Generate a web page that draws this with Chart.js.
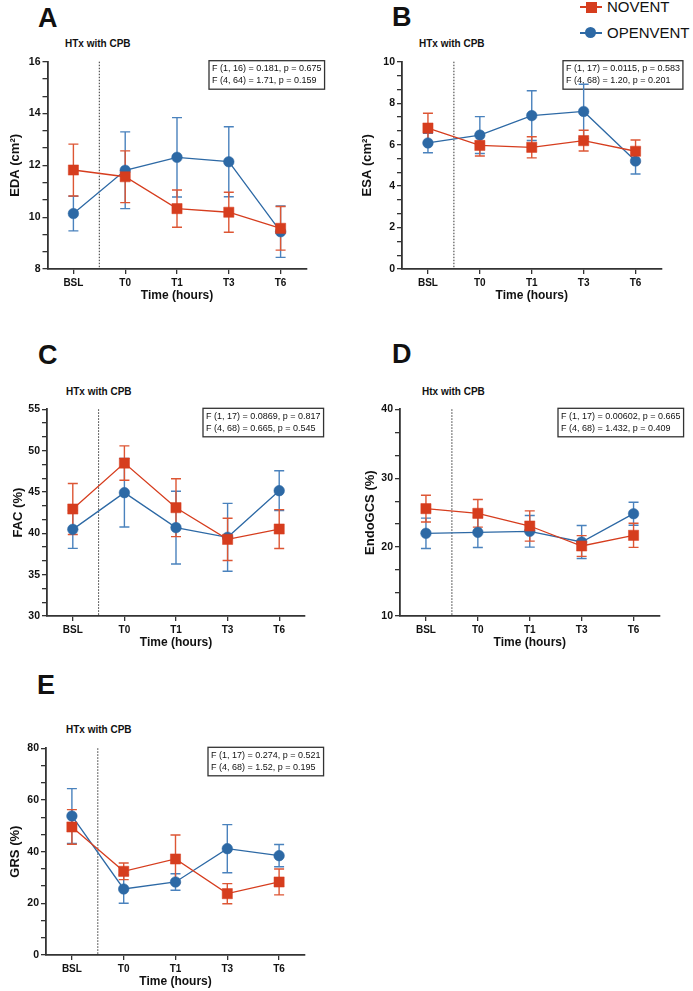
<!DOCTYPE html>
<html>
<head>
<meta charset="utf-8">
<script src="https://cdn.jsdelivr.net/npm/chart.js@4.4.1/dist/chart.umd.min.js"></script>
<style>
  body { margin: 0; background: #fff; width: 693px; height: 991px; position: relative; overflow: hidden;
         font-family: "Liberation Sans", Arial, sans-serif; color: #111; }
  canvas { position: absolute; }
  .letter { position: absolute; font-weight: bold; font-size: 27px; line-height: 1; }
  .sub { position: absolute; font-weight: bold; font-size: 10px; line-height: 1; white-space: nowrap; }
  .leg { position: absolute; font-size: 15px; line-height: 1; white-space: nowrap; }
  .legline { position: absolute; height: 1.6px; }
</style>
</head>
<body>
<div class="letter" style="left:38px;top:4.5px">A</div>
<div class="letter" style="left:392px;top:4px">B</div>
<div class="letter" style="left:38px;top:341.5px">C</div>
<div class="letter" style="left:392px;top:341px">D</div>
<div class="letter" style="left:37px;top:671.5px">E</div>

<div class="sub" style="left:65px;top:39.4px">HTx with CPB</div>
<div class="sub" style="left:419px;top:39.4px">HTx with CPB</div>
<div class="sub" style="left:66px;top:386.8px">HTx with CPB</div>
<div class="sub" style="left:422px;top:386.8px">Htx with CPB</div>
<div class="sub" style="left:66px;top:725px">HTx with CPB</div>

<!-- legend -->
<div class="legline" style="left:580px;top:6px;width:22px;background:#d63d1e"></div>
<div style="position:absolute;left:586px;top:1.5px;width:11px;height:11px;background:#d63d1e"></div>
<div class="leg" style="left:607px;top:-0.6px">NOVENT</div>
<div class="legline" style="left:580px;top:32px;width:22px;background:#2d69a5"></div>
<div style="position:absolute;left:585px;top:27.3px;width:11px;height:11px;border-radius:50%;background:#2d69a5"></div>
<div class="leg" style="left:607px;top:25.4px">OPENVENT</div>

<script>
const timeLabels = ["BSL", "T0", "T1", "T3", "T6"];

// A - EDA (cm²), mean and SEM
const edaNovent = [11.82, 11.56, 10.33, 10.19, 9.57];
const edaNoventSem = [1.0, 1.0, 0.72, 0.77, 0.84];
const edaOpenvent = [10.14, 11.81, 12.31, 12.14, 9.44];
const edaOpenventSem = [0.67, 1.48, 1.53, 1.35, 0.99];

// B - ESA (cm²)
const esaNovent = [6.8, 5.96, 5.87, 6.19, 5.68];
const esaNoventSem = [0.71, 0.51, 0.51, 0.5, 0.54];
const esaOpenvent = [6.08, 6.46, 7.4, 7.6, 5.21];
const esaOpenventSem = [0.47, 0.89, 1.2, 1.31, 0.63];

// C - FAC (%)
const facNovent = [42.94, 48.5, 43.1, 39.27, 40.52];
const facNoventSem = [3.08, 2.08, 3.5, 2.55, 2.35];
const facOpenvent = [40.48, 44.92, 40.69, 39.52, 45.16];
const facOpenventSem = [2.3, 4.15, 4.4, 4.1, 2.4];

// D - EndoGCS (%)
const endoNovent = [25.58, 24.9, 23.06, 20.16, 21.71];
const endoNoventSem = [1.94, 2.0, 2.2, 1.5, 1.75];
const endoOpenvent = [22.0, 22.14, 22.29, 20.74, 24.85];
const endoOpenventSem = [2.2, 2.2, 2.3, 2.4, 1.67];

// E - GRS (%)
const grsNovent = [49.55, 32.39, 37.16, 23.74, 28.26];
const grsNoventSem = [6.7, 3.2, 9.3, 3.9, 5.0];
const grsOpenvent = [53.8, 25.55, 28.26, 41.16, 38.45];
const grsOpenventSem = [10.6, 5.5, 3.2, 9.3, 4.3];

const statsA = ["F (1, 16) = 0.181, p = 0.675", "F (4, 64) = 1.71, p = 0.159"];
const statsB = ["F (1, 17) = 0.0115, p = 0.583", "F (4, 68) = 1.20, p = 0.201"];
const statsC = ["F (1, 17) = 0.0869, p = 0.817", "F (4, 68) = 0.665, p = 0.545"];
const statsD = ["F (1, 17) = 0.00602, p = 0.665", "F (4, 68) = 1.432, p = 0.409"];
const statsE = ["F (1, 17) = 0.274, p = 0.521", "F (4, 68) = 1.52, p = 0.195"];

const RED = "#d63d1e";
const BLUE = "#2d69a5";
const FONT = "'Liberation Sans', Arial, sans-serif";

// mean +/- SEM whiskers, drawn under the markers
const errorBars = {
  id: "errorBars",
  beforeDatasetsDraw(chart) {
    const ctx = chart.ctx;
    const y = chart.scales.y;
    for (let i = chart.data.datasets.length - 1; i >= 0; i--) {
      const ds = chart.data.datasets[i];
      const meta = chart.getDatasetMeta(i);
      ctx.save();
      ctx.strokeStyle = ds.whiskerColor;
      ctx.lineWidth = 1.4;
      meta.data.forEach((pt, j) => {
        const top = y.getPixelForValue(ds.data[j] + ds.sem[j]);
        const bot = y.getPixelForValue(ds.data[j] - ds.sem[j]);
        ctx.beginPath();
        ctx.moveTo(pt.x, top); ctx.lineTo(pt.x, bot);
        ctx.moveTo(pt.x - 5, top); ctx.lineTo(pt.x + 5, top);
        ctx.moveTo(pt.x - 5, bot); ctx.lineTo(pt.x + 5, bot);
        ctx.stroke();
      });
      ctx.restore();
    }
  }
};

// dotted separator between BSL and T0
const divider = {
  id: "divider",
  beforeDatasetsDraw(chart) {
    const { ctx, chartArea } = chart;
    const x = (chart.scales.x.getPixelForValue(0) + chart.scales.x.getPixelForValue(1)) / 2;
    ctx.save();
    ctx.strokeStyle = "#333";
    ctx.lineWidth = 1;
    ctx.setLineDash([1.5, 1.5]);
    ctx.beginPath();
    ctx.moveTo(x, chartArea.top);
    ctx.lineTo(x, chartArea.bottom);
    ctx.stroke();
    ctx.restore();
  }
};

// two-way ANOVA text box
const statsBox = {
  id: "statsBox",
  beforeDatasetsDraw(chart, args, opts) {
    if (!opts.lines) return;
    const { ctx, chartArea } = chart;
    ctx.save();
    ctx.font = "9px " + FONT;
    const w = Math.max(...opts.lines.map((t) => ctx.measureText(t).width)) + 6;
    const x = chartArea.right - opts.dx;
    const y = chartArea.top - 1;
    ctx.strokeStyle = "#333";
    ctx.lineWidth = 1.3;
    ctx.strokeRect(x, y, w, 28.5);
    ctx.fillStyle = "#111";
    ctx.textBaseline = "middle";
    opts.lines.forEach((t, k) => ctx.fillText(t, x + 3, y + 8.3 + k * 11.7));
    ctx.restore();
  }
};

function makePanel(p) {
  const canvasLeft = p.col === 0 ? 0 : 350;
  const canvasW = p.col === 0 ? 340 : 343;
  const canvasTop = Math.floor(p.top) - 20;
  const canvasH = Math.ceil(p.bottom + 34 - canvasTop);
  const cv = document.createElement("canvas");
  cv.width = canvasW;
  cv.height = canvasH;
  cv.style.left = canvasLeft + "px";
  cv.style.top = canvasTop + "px";
  document.body.appendChild(cv);

  const yWidth = p.left - canvasLeft;
  const xHeight = canvasH - (p.bottom - canvasTop);
  const step = p.major / 3;

  new Chart(cv.getContext("2d"), {
    type: "line",
    data: {
      labels: timeLabels,
      datasets: [
        {
          label: "NOVENT",
          data: p.novent,
          sem: p.noventSem,
          whiskerColor: "#dd5634",
          borderColor: RED,
          backgroundColor: RED,
          borderWidth: 1.3,
          pointStyle: "rect",
          pointRadius: 7.2,
          pointBorderWidth: 0.5,
          tension: 0,
        },
        {
          label: "OPENVENT",
          data: p.openvent,
          sem: p.openventSem,
          whiskerColor: "#4a82bd",
          borderColor: BLUE,
          backgroundColor: BLUE,
          borderWidth: 1.3,
          pointStyle: "circle",
          pointRadius: 5.3,
          pointBorderWidth: 0.5,
          tension: 0,
        },
      ],
    },
    options: {
      responsive: false,
      animation: false,
      events: [],
      layout: {
        padding: { top: p.top - canvasTop, right: canvasLeft + canvasW - p.right, left: 0, bottom: 0 },
      },
      plugins: {
        legend: { display: false },
        tooltip: { enabled: false },
        statsBox: { lines: p.stats, dx: p.boxDx },
      },
      scales: {
        x: {
          offset: true,
          afterFit(s) { s.height = xHeight; },
          ticks: { color: "#111", font: { family: FONT, weight: "bold", size: 10 }, padding: 3, maxRotation: 0 },
          grid: { drawOnChartArea: false, offset: false, tickLength: 5, color: "#333", lineWidth: 1.3 },
          border: { color: "#333", width: 1.8 },
          title: { display: true, text: "Time (hours)", color: "#111", font: { family: FONT, weight: "bold", size: 12 }, padding: 0 },
        },
        y: {
          min: p.min,
          max: p.max,
          afterFit(s) { s.width = yWidth; },
          afterBuildTicks(s) {
            const n = Math.round((p.max - p.min) / step);
            const t = [];
            for (let k = 0; k <= n; k++) t.push({ value: p.min + k * step });
            s.ticks = t;
          },
          ticks: {
            autoSkip: false,
            padding: 2,
            color: "#111",
            font: { family: FONT, weight: "bold", size: 10.5 },
            callback: (v, i) => (i % 3 === 0 ? String(Math.round(v)) : ""),
          },
          grid: { drawOnChartArea: false, tickLength: 5, color: "#333", lineWidth: 1.3 },
          border: { color: "#333", width: 1.8 },
          title: {
            display: true, text: p.yTitle, color: "#111",
            font: { family: FONT, weight: "bold", size: 13 },
            padding: { top: p.titleX - canvasLeft - 7.8, bottom: 0 },
          },
        },
      },
    },
    plugins: [divider, statsBox, errorBars],
  });
}

makePanel({ col: 0, left: 47.5, right: 306.5, top: 61.7, bottom: 269, min: 8, max: 16, major: 2,
  yTitle: "EDA (cm²)", titleX: 15.5, novent: edaNovent, noventSem: edaNoventSem,
  openvent: edaOpenvent, openventSem: edaOpenventSem, stats: statsA, boxDx: 97.5 });
makePanel({ col: 1, left: 402, right: 661.5, top: 61.7, bottom: 269, min: 0, max: 10, major: 2,
  yTitle: "ESA (cm²)", titleX: 367, novent: esaNovent, noventSem: esaNoventSem,
  openvent: esaOpenvent, openventSem: esaOpenventSem, stats: statsB, boxDx: 98.5 });
makePanel({ col: 0, left: 47, right: 305, top: 409.3, bottom: 616, min: 30, max: 55, major: 5,
  yTitle: "FAC (%)", titleX: 18, novent: facNovent, noventSem: facNoventSem,
  openvent: facOpenvent, openventSem: facOpenventSem, stats: statsC, boxDx: 102 });
makePanel({ col: 1, left: 400, right: 659.5, top: 409.3, bottom: 616, min: 10, max: 40, major: 10,
  yTitle: "EndoGCS (%)", titleX: 370, novent: endoNovent, noventSem: endoNoventSem,
  openvent: endoOpenvent, openventSem: endoOpenventSem, stats: statsD, boxDx: 101.5 });
makePanel({ col: 0, left: 46, right: 305, top: 748.3, bottom: 955, min: 0, max: 80, major: 20,
  yTitle: "GRS (%)", titleX: 15, novent: grsNovent, noventSem: grsNoventSem,
  openvent: grsOpenvent, openventSem: grsOpenventSem, stats: statsE, boxDx: 97 });
</script>
</body>
</html>
